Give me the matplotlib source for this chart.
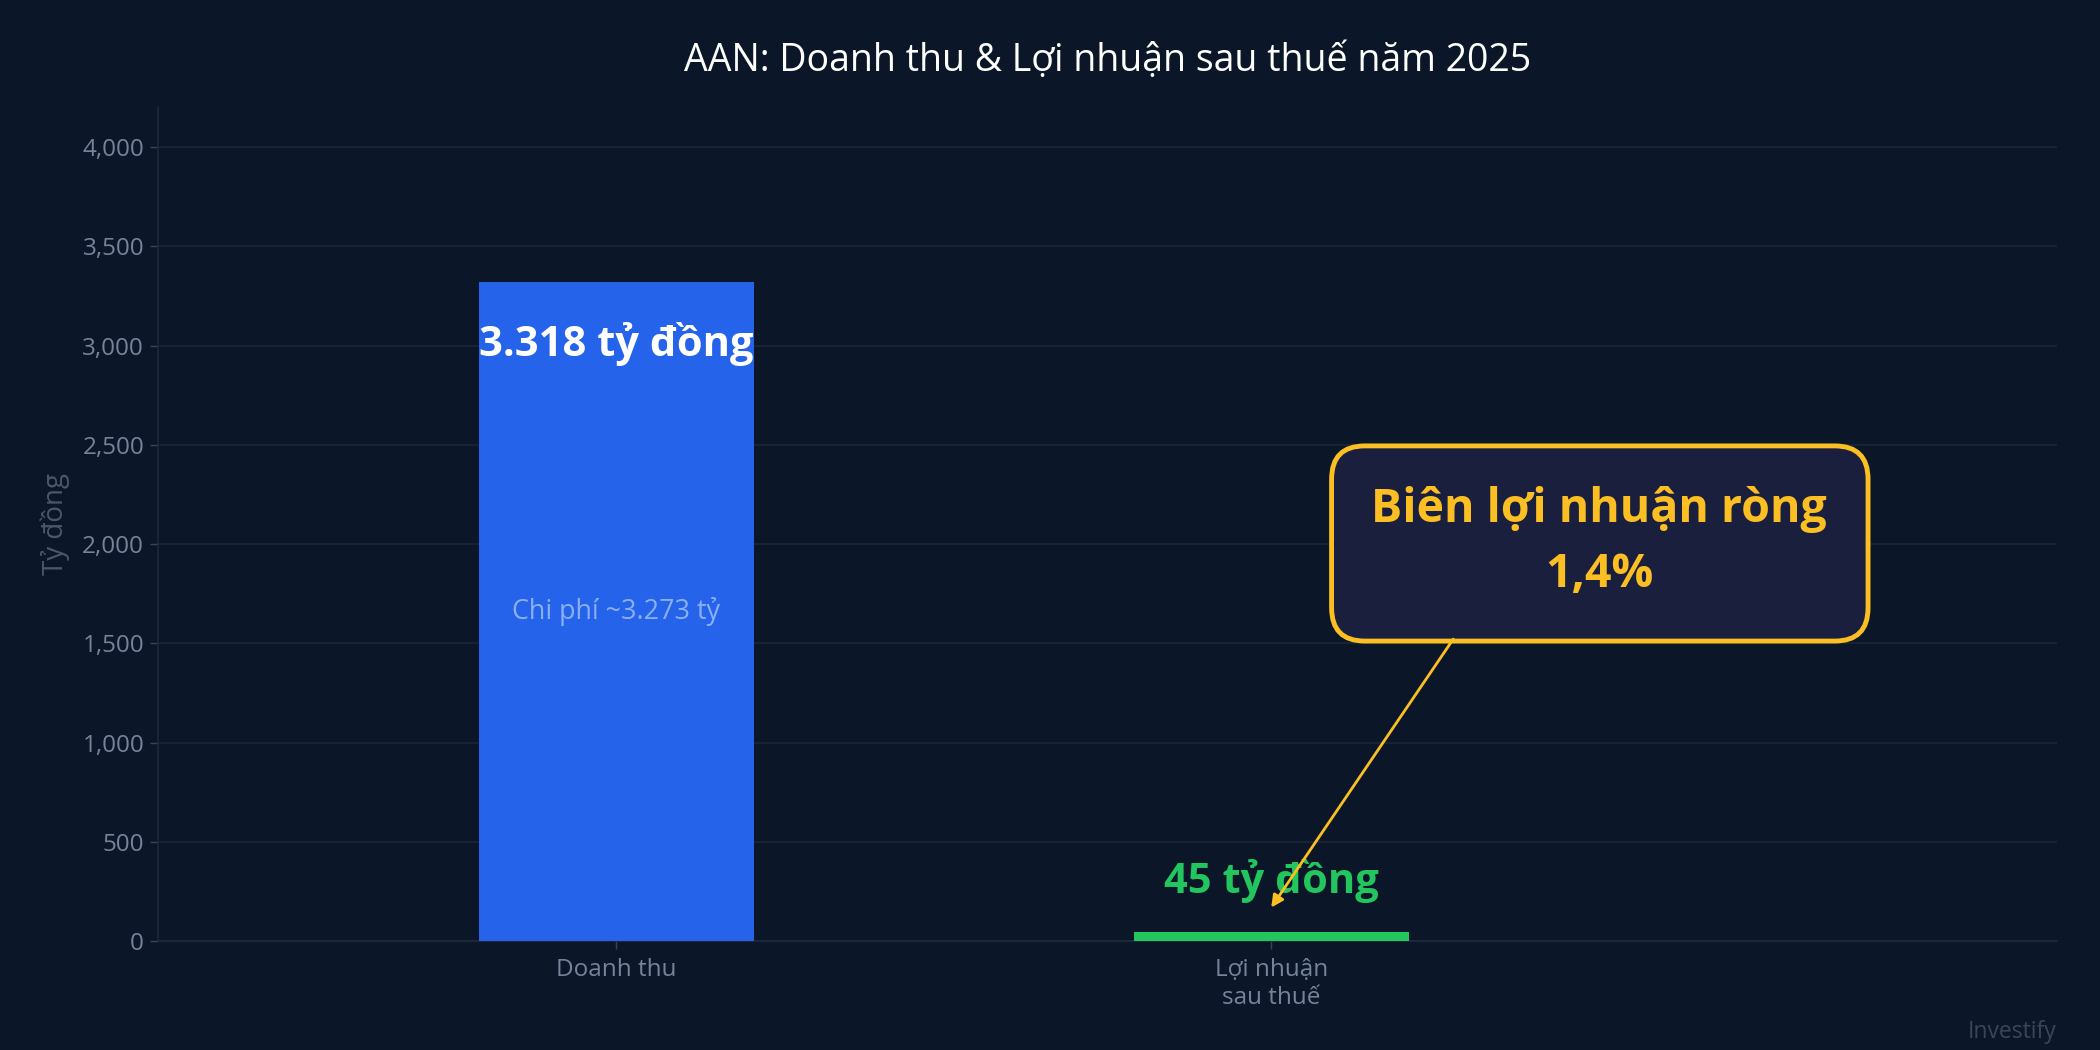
import matplotlib
matplotlib.use("Agg")
import matplotlib.pyplot as plt
from matplotlib.patches import FancyBboxPatch

# du lieu
categories = ["Doanh thu", "Lợi nhuận\nsau thuế"]
values = [3318, 45]
bar_labels = ["3.318 tỷ đồng", "45 tỷ đồng"]
cost_label = "Chi phí ~3.273 tỷ"
margin_title = "Biên lợi nhuận ròng"
margin_value = "1,4%"
yticks = [0, 500, 1000, 1500, 2000, 2500, 3000, 3500, 4000]

BG = "#0b1728"
GRID = "#1a2536"
TICK = "#76839a"
BLUE = "#2563eb"
GREEN = "#22c55e"
AMBER = "#fbbf24"

plt.rcParams["font.family"] = ["Open Sans", "DejaVu Sans"]

fig = plt.figure(figsize=(21, 10.5), dpi=100, facecolor=BG)
ax = fig.add_axes([158 / 2100, 1 - 941.3 / 1050, 1899 / 2100, 834 / 1050])
ax.set_facecolor(BG)

x = range(len(categories))
ax.bar(x, values, width=0.42, color=[BLUE, GREEN], zorder=3)

ax.set_xlim(-0.7, 2.2)
ax.set_ylim(0, 4200)
ax.set_yticks(yticks)
ax.set_yticklabels([f"{v:,}" for v in yticks])
ax.set_xticks(list(x))
ax.set_xticklabels(categories, linespacing=1.25)

ax.grid(axis="y", color=GRID, linewidth=1.2, zorder=0)
for s in ["top", "right"]:
    ax.spines[s].set_visible(False)
ax.spines["left"].set_color("#1c2738")
ax.spines["bottom"].set_color("#1f2a3b")
ax.spines["left"].set_linewidth(1.2)
ax.spines["bottom"].set_linewidth(1.2)
ax.tick_params(axis="both", labelsize=17.5, length=6, width=1, pad=4)
ax.tick_params(axis="x", colors="#3a4658", labelcolor=TICK, pad=6)
ax.tick_params(axis="y", colors="#3a4658", labelcolor=TICK)

ax.set_ylabel("Tỷ đồng", color="#4c586a", fontsize=20, labelpad=9)

ax.set_title("AAN: Doanh thu & Lợi nhuận sau thuế năm 2025", color="white",
             fontsize=27, pad=26)

# nhan tren cot
ax.text(0, values[0] - 310, bar_labels[0], color="white", fontsize=30,
        fontweight="bold", ha="center", va="center", zorder=5)
ax.text(0, values[0] / 2, cost_label, color="#96b8f8", fontsize=19.4,
        ha="center", va="center", alpha=0.9, zorder=5)
ax.text(1, values[1] + 260, bar_labels[1], color=GREEN, fontsize=30,
        fontweight="bold", ha="center", va="center", zorder=5)

# hop chu thich bien loi nhuan
aspect = 1899 / 834
box = FancyBboxPatch((0.618, 0.360), 0.2825, 0.234, transform=ax.transAxes,
                     boxstyle="round,pad=0,rounding_size=0.0175",
                     mutation_aspect=aspect, facecolor="#1a1f3d",
                     edgecolor=AMBER, linewidth=3.5, zorder=6)
ax.add_patch(box)
ax.text(0.759, 0.518, margin_title, transform=ax.transAxes, color=AMBER,
        fontsize=33.5, fontweight="bold", ha="center", va="center", zorder=7)
ax.text(0.759, 0.440, margin_value, transform=ax.transAxes, color=AMBER,
        fontsize=33.5, fontweight="bold", ha="center", va="center", zorder=7)

ax.annotate("", xy=(1.0, values[1] + 125), xytext=(1.278, 1522),
            arrowprops=dict(arrowstyle="-|>", color=AMBER, lw=2,
                            mutation_scale=18, shrinkA=0, shrinkB=0),
            zorder=8)

fig.text(2057 / 2100, 1 - 1032 / 1050, "Investify", color="#3a4556",
         fontsize=16.5, ha="right", va="center")

fig.savefig("out.png", dpi=100, facecolor=BG)
